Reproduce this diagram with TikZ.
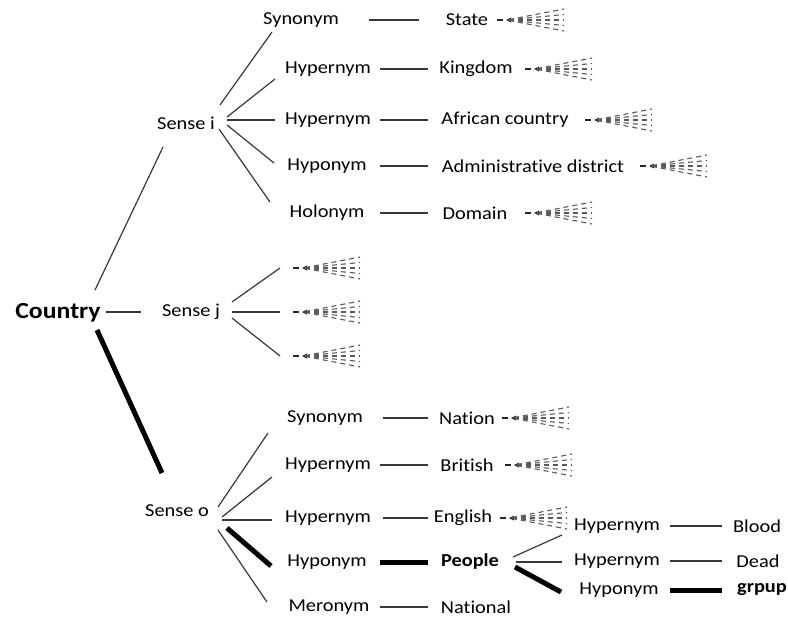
\documentclass[tikz,border=0pt]{standalone}
\usepackage{fontspec}
\setmainfont{Carlito}[FakeStretch=1.12, Ligatures={NoCommon}]
\usetikzlibrary{calc}
\begin{document}
\begin{tikzpicture}[x=1pt,y=-1pt,
  lbl/.style={inner sep=1pt, text=black, font=\fontsize{18.2}{21}\selectfont},
  bold/.style={lbl, font=\fontsize{18.2}{21}\selectfont\bfseries},
  root/.style={lbl, text=black, font=\fontsize{23}{27}\selectfont\bfseries},
  link/.style={line width=1.2pt, draw=black!78},
  heavy/.style={line width=5pt, draw=black},
  fan/.pic={
    \draw[line width=2pt, black!85] (0,0) -- (6,0);
    \fill[black!85] (9,0) -- (14,-2.5) -- (14,2.5) -- cycle;
    \foreach \d in {-11,-5.5,0,5.5,11}
      \draw[line width=1.1pt, black!65, dash pattern=on 5pt off 4pt, dash phase=7pt]
        (10,0) -- (67,\d);
  }]
\useasboundingbox (0,0) rectangle (788,618);

% root and senses
\node[root] (country) at (58,313) {Country};
\node[lbl] (sensei) at (186,123) {Sense i};
\node[lbl] (sensej) at (191,312) {Sense j};
\node[lbl] (senseo) at (177,511) {Sense o};

\draw[link] ($(country)+(37,-23)$) -- ($(sensei)+(-23,24)$);
\draw[link] ($(country)+(48,-1)$) -- ($(sensej)+(-50,0)$);
\draw[heavy] ($(country)+(39,17)$) -- ($(senseo)+(-15,-38)$);

% relations of sense i
\node[lbl] (syn1) at (301,20) {Synonym};
\node[lbl] (hyp1) at (328,69) {Hypernym};
\node[lbl] (hyp2) at (328,120) {Hypernym};
\node[lbl] (hypo1) at (327,166) {Hyponym};
\node[lbl] (holo) at (327,213) {Holonym};

\node[lbl] (state) at (467,20) {State};
\node[lbl] (kingdom) at (476,69) {Kingdom};
\node[lbl] (african) at (505,120) {African country};
\node[lbl] (admin) at (533,166) {Administrative district};
\node[lbl] (domain) at (475,213) {Domain};

\draw[link] ($(sensei)+(34,-18)$) -- ($(syn1)+(-29,12)$);
\draw[link] ($(sensei)+(41,-6)$) -- ($(hyp1)+(-53,10)$);
\draw[link] ($(sensei)+(41,-3)$) -- ($(hyp2)+(-53,0)$);
\draw[link] ($(sensei)+(41,2)$) -- ($(hypo1)+(-53,-3)$);
\draw[link] ($(sensei)+(33,6)$) -- ($(holo)+(-57,-11)$);

\draw[link] ($(syn1)+(68,0)$) -- ($(state)+(-48,0)$);
\draw[link] ($(hyp1)+(52,0)$) -- ($(kingdom)+(-48,0)$);
\draw[link] ($(hyp2)+(52,0)$) -- ($(african)+(-77,0)$);
\draw[link] ($(hypo1)+(53,0)$) -- ($(admin)+(-105,0)$);
\draw[link] ($(holo)+(53,0)$) -- ($(domain)+(-47,0)$);

\pic at ($(state)+(30,0)$) {fan};
\pic at ($(kingdom)+(49,0)$) {fan};
\pic at ($(african)+(80,0)$) {fan};
\pic at ($(admin)+(107,0)$) {fan};
\pic at ($(domain)+(50,0)$) {fan};

% open branches of sense j
\coordinate (jf1) at (280,268);
\coordinate (jf2) at (280,312);
\coordinate (jf3) at (280,356);
\draw[link] ($(sensej)+(41,-10)$) -- (jf1);
\draw[link] ($(sensej)+(41,0)$) -- (jf2);
\draw[link] ($(sensej)+(41,6)$) -- (jf3);
\pic at ($(jf1)+(13,0)$) {fan};
\pic at ($(jf2)+(13,0)$) {fan};
\pic at ($(jf3)+(13,0)$) {fan};

% relations of sense o
\node[lbl] (syn2) at (325,418) {Synonym};
\node[lbl] (hyp3) at (328,465) {Hypernym};
\node[lbl] (hyp4) at (328,518) {Hypernym};
\node[lbl] (hypo2) at (327,562) {Hyponym};
\node[lbl] (mero) at (329,607) {Meronym};

\node[lbl] (nation) at (467,418) {Nation};
\node[lbl] (british) at (467,465) {British};
\node[lbl] (english) at (463,518) {English};
\node[bold] (people) at (470,562) {People};
\node[lbl] (national) at (476,607) {National};

\draw[link] ($(senseo)+(41,-4)$) -- ($(syn2)+(-57,15)$);
\draw[link] ($(senseo)+(45,6)$) -- ($(hyp3)+(-56,12)$);
\draw[link] ($(senseo)+(45,9)$) -- ($(hyp4)+(-56,2)$);
\draw[heavy] ($(senseo)+(50,17)$) -- ($(hypo2)+(-56,4)$);
\draw[link] ($(senseo)+(41,19)$) -- ($(mero)+(-62,-5)$);

\draw[link] ($(syn2)+(58,0)$) -- ($(nation)+(-39,0)$);
\draw[link] ($(hyp3)+(52,0)$) -- ($(british)+(-39,0)$);
\draw[link] ($(hyp4)+(55,0)$) -- ($(english)+(-35,0)$);
\draw[heavy] ($(hypo2)+(53,0)$) -- ($(people)+(-42,0)$);
\draw[link] ($(mero)+(51,0)$) -- ($(national)+(-48,0)$);

\pic at ($(nation)+(35,0)$) {fan};
\pic at ($(british)+(38,0)$) {fan};
\pic at ($(english)+(37,0)$) {fan};

% relations of People
\node[lbl] (hyp5) at (617,526) {Hypernym};
\node[lbl] (hyp6) at (617,561) {Hypernym};
\node[lbl] (hypo3) at (619,590) {Hyponym};
\node[lbl] (blood) at (757,526) {Blood};
\node[lbl] (dead) at (758,561) {Dead};
\node[bold] (grpup) at (762,590) {grpup};

\draw[link] ($(people)+(43,-5)$) -- ($(hyp5)+(-55,9)$);
\draw[link] ($(people)+(46,0)$) -- ($(hyp6)+(-55,1)$);
\draw[heavy] ($(people)+(45,5)$) -- ($(hypo3)+(-58,2)$);

\draw[link] ($(hyp5)+(53,0)$) -- ($(blood)+(-35,0)$);
\draw[link] ($(hyp6)+(53,0)$) -- ($(dead)+(-36,0)$);
\draw[heavy] ($(hypo3)+(51,0)$) -- ($(grpup)+(-40,0)$);
\end{tikzpicture}
\end{document}
